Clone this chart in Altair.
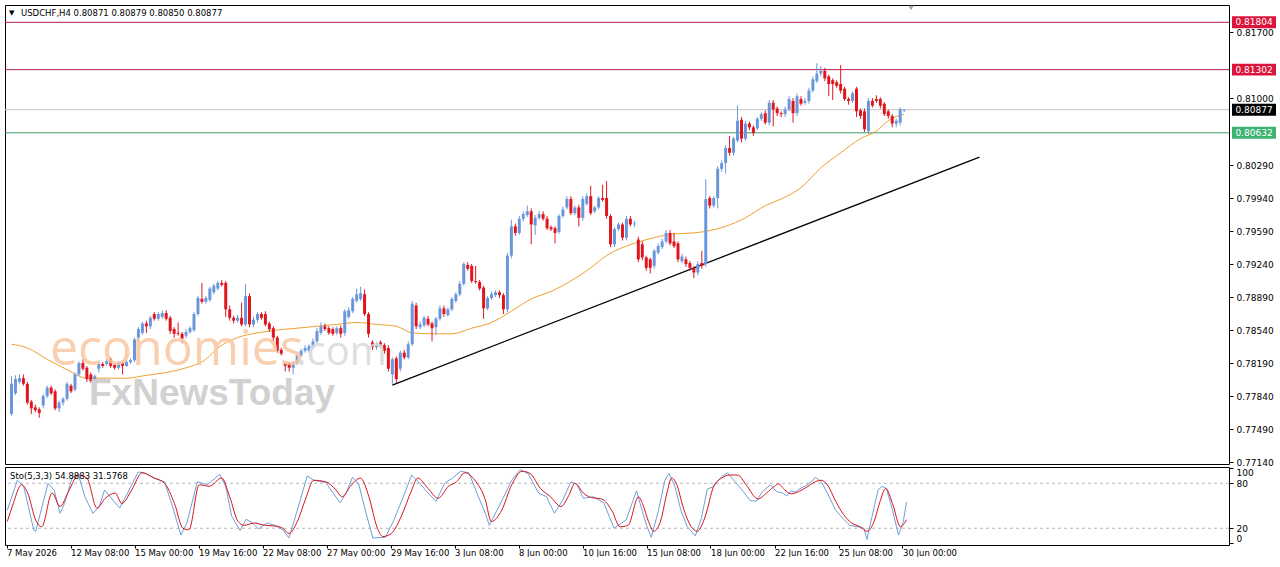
import altair as alt
import pandas as pd
import numpy as np

# ---------------- data (prices in units of 0.0001) ----------------
opens = [7765, 7787, 7799, 7803, 7797, 7778, 7772, 7770, 7774, 7784,
         7793, 7789, 7771, 7777, 7781, 7795, 7791, 7807, 7819, 7814,
         7807, 7802, 7813, 7818, 7818, 7823, 7817, 7814, 7819, 7816,
         7820, 7822, 7846, 7851, 7861, 7858, 7871, 7866, 7868, 7872,
         7867, 7855, 7851, 7850, 7848, 7852, 7854, 7871, 7887, 7884,
         7886, 7894, 7898, 7904, 7904, 7876, 7867, 7864, 7867, 7860,
         7890, 7860, 7865, 7871, 7871, 7861, 7856, 7846, 7833, 7819,
         7819, 7814, 7819, 7827, 7832, 7832, 7836, 7842, 7851, 7858,
         7856, 7855, 7851, 7856, 7851, 7868, 7874, 7885, 7887, 7892,
         7871, 7841, 7836, 7841, 7838, 7835, 7807, 7824, 7813, 7830,
         7825, 7839, 7880, 7857, 7859, 7866, 7861, 7857, 7866, 7877,
         7870, 7876, 7885, 7892, 7903, 7923, 7922, 7906, 7905, 7899,
         7877, 7888, 7891, 7894, 7891, 7876, 7933, 7964, 7957, 7972,
         7976, 7980, 7965, 7973, 7977, 7972, 7963, 7962, 7958, 7975,
         7984, 7993, 7978, 7984, 7973, 7988, 7996, 7980, 7984, 7994,
         7994, 7975, 7945, 7961, 7966, 7952, 7972, 7966, 7950, 7945,
         7931, 7929, 7922, 7936, 7942, 7948, 7957, 7948, 7946, 7927,
         7929, 7925, 7920, 7915, 7925, 7924, 7994, 7986, 7994, 8025,
         8031, 8047, 8042, 8055, 8077, 8057, 8073, 8069, 8068, 8078,
         8084, 8074, 8095, 8089, 8084, 8083, 8088, 8097, 8084, 8099,
         8095, 8097, 8108, 8118, 8126, 8129, 8123, 8119, 8117, 8115,
         8110, 8099, 8097, 8110, 8087, 8086, 8065, 8097, 8099, 8099,
         8094, 8086, 8081, 8073, 8074, 8087.1]
highs = [7805, 7806, 7807, 7807, 7799, 7780, 7775, 7772, 7786, 7795,
         7795, 7791, 7779, 7783, 7799, 7797, 7809, 7821, 7823, 7816,
         7809, 7807, 7821, 7820, 7823, 7825, 7819, 7821, 7821, 7822,
         7824, 7846, 7857, 7863, 7864, 7869, 7873, 7873, 7875, 7875,
         7869, 7857, 7862, 7852, 7855, 7858, 7873, 7890, 7904, 7890,
         7900, 7903, 7906, 7907, 7906, 7880, 7869, 7870, 7883, 7903,
         7893, 7868, 7873, 7873, 7874, 7863, 7858, 7848, 7835, 7820,
         7820, 7821, 7829, 7834, 7838, 7839, 7845, 7856, 7862, 7861,
         7858, 7857, 7858, 7859, 7876, 7878, 7889, 7898, 7900, 7897,
         7873, 7843, 7841, 7843, 7840, 7838, 7825, 7826, 7832, 7833,
         7842, 7885, 7883, 7863, 7869, 7869, 7863, 7868, 7880, 7880,
         7878, 7889, 7894, 7906, 7926, 7926, 7924, 7922, 7907, 7901,
         7890, 7895, 7896, 7896, 7893, 7936, 7971, 7967, 7975, 7980,
         7986, 7983, 7976, 7980, 7980, 7975, 7965, 7964, 7977, 7985,
         7996, 7996, 7986, 7987, 7996, 7999, 8007, 7986, 7996, 8008,
         8012, 7977, 7963, 7968, 7968, 7975, 7975, 7970, 7953, 7948,
         7933, 7931, 7940, 7946, 7951, 7960, 7960, 7957, 7948, 7935,
         7932, 7927, 7922, 7927, 7938, 8014, 7996, 7996, 8028, 8034,
         8050, 8060, 8059, 8092, 8080, 8076, 8075, 8071, 8080, 8085,
         8087, 8098, 8098, 8091, 8086, 8091, 8102, 8100, 8105, 8102,
         8100, 8111, 8123, 8137, 8134, 8132, 8125, 8121, 8119, 8135,
         8112, 8101, 8107, 8112, 8089, 8089, 8100, 8100, 8103, 8101,
         8096, 8088, 8083, 8078, 8090, 8087.9]
lows = [7763, 7785, 7797, 7795, 7775, 7765, 7767, 7761, 7771, 7782,
        7785, 7769, 7767, 7774, 7779, 7787, 7789, 7805, 7811, 7799,
        7798, 7800, 7809, 7814, 7816, 7814, 7812, 7812, 7807, 7815,
        7818, 7820, 7842, 7849, 7851, 7855, 7864, 7864, 7866, 7864,
        7850, 7846, 7848, 7840, 7845, 7850, 7852, 7869, 7882, 7882,
        7884, 7892, 7896, 7900, 7868, 7864, 7861, 7862, 7858, 7858,
        7857, 7857, 7862, 7865, 7858, 7852, 7842, 7830, 7827, 7810,
        7810, 7807, 7817, 7825, 7830, 7830, 7834, 7840, 7849, 7853,
        7849, 7848, 7849, 7846, 7848, 7866, 7872, 7883, 7885, 7869,
        7846, 7833, 7833, 7835, 7829, 7810, 7797, 7798, 7810, 7823,
        7823, 7837, 7855, 7855, 7857, 7858, 7842, 7849, 7864, 7868,
        7868, 7874, 7883, 7890, 7901, 7917, 7904, 7903, 7896, 7866,
        7875, 7886, 7889, 7888, 7871, 7873, 7930, 7954, 7955, 7969,
        7974, 7945, 7955, 7971, 7970, 7960, 7959, 7946, 7956, 7973,
        7982, 7976, 7976, 7964, 7970, 7986, 7976, 7978, 7982, 7990,
        7972, 7942, 7942, 7959, 7949, 7949, 7964, 7963, 7926, 7928,
        7917, 7914, 7919, 7934, 7940, 7946, 7944, 7941, 7926, 7925,
        7921, 7917, 7909, 7912, 7919, 7921, 7983, 7984, 7983, 8022,
        8020, 8039, 8039, 8053, 8053, 8055, 8066, 8060, 8066, 8076,
        8072, 8071, 8070, 8081, 8080, 8080, 8086, 8074, 8081, 8092,
        8093, 8094, 8106, 8116, 8123, 8118, 8102, 8098, 8111, 8105,
        8097, 8093, 8095, 8080, 8078, 8064, 8062, 8090, 8095, 8089,
        8081, 8078, 8069, 8069, 8071, 8085.0]
closes = [7797, 7802, 7803, 7797, 7777, 7771, 7769, 7766, 7784, 7793,
          7787, 7771, 7777, 7781, 7797, 7789, 7807, 7819, 7813, 7802,
          7800, 7805, 7818, 7816, 7821, 7816, 7814, 7819, 7816, 7820,
          7822, 7844, 7855, 7861, 7858, 7867, 7866, 7871, 7872, 7866,
          7853, 7850, 7850, 7845, 7852, 7856, 7871, 7888, 7884, 7888,
          7898, 7901, 7904, 7902, 7876, 7867, 7864, 7867, 7860, 7890,
          7860, 7865, 7871, 7867, 7860, 7855, 7846, 7832, 7829, 7816,
          7814, 7819, 7827, 7832, 7835, 7837, 7842, 7853, 7858, 7855,
          7851, 7850, 7856, 7850, 7874, 7875, 7887, 7892, 7893, 7871,
          7850, 7836, 7838, 7837, 7832, 7813, 7823, 7802, 7830, 7825,
          7839, 7882, 7858, 7860, 7867, 7860, 7856, 7866, 7877, 7871,
          7876, 7887, 7892, 7903, 7924, 7919, 7906, 7905, 7898, 7877,
          7888, 7892, 7894, 7891, 7876, 7933, 7964, 7957, 7972, 7977,
          7980, 7966, 7973, 7977, 7972, 7962, 7961, 7957, 7975, 7982,
          7993, 7978, 7984, 7973, 7993, 7996, 7978, 7984, 7994, 7992,
          7975, 7945, 7961, 7966, 7952, 7972, 7966, 7967, 7929, 7931,
          7920, 7920, 7938, 7943, 7948, 7957, 7946, 7943, 7929, 7932,
          7924, 7920, 7915, 7924, 7922, 7993, 7986, 7994, 8025, 8031,
          8047, 8042, 8057, 8076, 8057, 8073, 8069, 8063, 8078, 8083,
          8074, 8095, 8088, 8084, 8083, 8088, 8099, 8084, 8102, 8094,
          8097, 8108, 8120, 8126, 8129, 8121, 8115, 8115, 8113, 8108,
          8099, 8097, 8105, 8086, 8081, 8067, 8097, 8092, 8097, 8092,
          8083, 8081, 8073, 8076, 8088, 8087.7]

# moving average readings (bar index, price*1e4)
ma_bars = [0, 4, 9, 14, 19, 24, 29, 34, 39, 44, 49, 52, 57, 62, 67, 72, 77, 82, 87, 92,
           97, 101, 106, 111, 116, 121, 126, 131, 136, 141, 146, 150, 157, 162, 167, 172,
           180, 185, 190, 194, 199, 204, 209, 214, 218, 221, 225]
ma_vals = [7839, 7835, 7823, 7812, 7803, 7803, 7803, 7806, 7809, 7814, 7823, 7835, 7846,
           7851, 7854, 7856, 7858, 7860, 7862, 7860, 7858, 7851, 7850, 7850, 7856, 7862,
           7874, 7887, 7895, 7906, 7920, 7933, 7946, 7952, 7956, 7957, 7964, 7973, 7986,
           7993, 8005, 8026, 8042, 8057, 8065, 8076, 8083]

# trend line end points (bar index, price)
trend_bars = [96, 244]
trend_prices = [0.77957, 0.80375]

# stochastic readings (bar index, value)
sto_main = [(0.2, 44), (2.7, 84), (4.3, 76), (6.8, 18), (7.3, 16), (10.4, 80), (11.9, 71),
            (13.4, 40), (14.5, 53), (16.5, 89), (18.0, 91), (19.6, 62), (21.6, 40), (23.2, 49),
            (24.5, 71), (25.9, 62), (28.3, 47), (30.3, 67), (32.9, 95), (34.4, 94), (36.9, 87),
            (39.5, 82), (41.5, 49), (43.6, 11), (45.1, 27), (47.7, 82), (50.2, 78), (53.3, 92),
            (54.8, 76), (56.3, 36), (58.4, 17), (59.9, 32), (61.5, 27), (63.0, 19), (65.0, 27),
            (67.1, 24), (69.1, 18), (70.6, 7), (72.7, 44), (75.2, 90), (76.8, 84), (79.8, 81),
            (83.4, 54), (84.9, 67), (86.5, 88), (88.0, 80), (90.1, 36), (91.6, 7), (94.7, 8),
            (96.7, 29), (99.2, 62), (101.3, 91), (103.3, 80), (105.4, 67), (107.4, 56),
            (109.5, 80), (111.5, 87), (113.5, 96), (115.6, 94), (117.6, 67), (119.7, 40),
            (120.7, 24), (123.3, 51), (126.3, 84), (128.4, 98), (130.4, 93), (133.0, 67),
            (135.0, 62), (137.0, 40), (139.1, 58), (141.1, 82), (142.7, 78), (144.2, 60),
            (146.7, 62), (149.3, 54), (151.9, 20), (154.9, 31), (157.5, 70), (159.0, 42),
            (160.0, 24), (161.2, 8), (163.0, 44), (164.6, 84), (165.6, 93), (167.1, 76),
            (168.6, 44), (170.2, 22), (172.2, 10), (173.7, 33), (175.2, 72), (176.8, 76),
            (178.8, 89), (180.3, 94), (181.8, 84), (183.9, 71), (185.9, 57), (187.4, 56),
            (189.0, 69), (191.0, 78), (192.5, 69), (194.0, 67), (195.1, 63), (196.1, 70),
            (197.1, 68), (198.1, 72), (199.6, 76), (201.2, 82), (202.2, 88), (203.7, 82),
            (205.2, 67), (207.3, 44), (209.3, 32), (210.8, 24), (212.8, 22), (214.4, 20),
            (215.1, 5), (216.4, 36), (217.9, 71), (218.9, 76), (220.0, 73), (221.5, 44),
            (223.0, 11), (224.2, 29), (225.0, 54.9)]
sto_signal = [(0.2, 29), (1.7, 53), (3.7, 78), (5.3, 67), (7.3, 31), (8.8, 22), (11.4, 67),
              (13.4, 49), (15.5, 69), (18.0, 91), (20.1, 87), (22.6, 47), (24.7, 60), (27.2, 67),
              (28.8, 53), (31.3, 71), (33.9, 94), (36.9, 87), (39.5, 80), (42.0, 53), (44.1, 20),
              (45.6, 18), (48.2, 78), (50.7, 76), (53.8, 87), (55.8, 62), (57.9, 29), (59.4, 24),
              (62.0, 27), (64.5, 24), (67.1, 23), (69.1, 20), (70.6, 13), (72.7, 29), (74.7, 58),
              (76.8, 84), (79.8, 82), (82.4, 71), (83.9, 62), (86.0, 76), (88.5, 87), (90.6, 62),
              (92.6, 22), (94.1, 9), (96.2, 13), (98.7, 36), (101.3, 71), (102.8, 87),
              (105.4, 73), (107.9, 60), (110.5, 76), (112.5, 82), (114.6, 94), (117.1, 84),
              (119.7, 58), (121.2, 29), (123.8, 44), (126.3, 78), (128.9, 96), (130.9, 93),
              (133.5, 73), (136.0, 62), (138.6, 49), (140.6, 64), (142.1, 80), (144.2, 67),
              (146.2, 61), (148.8, 59), (151.3, 44), (153.4, 22), (155.4, 24), (158.0, 62),
              (159.0, 53), (160.5, 29), (161.8, 16), (163.6, 31), (165.1, 67), (166.3, 87),
              (167.6, 78), (169.1, 49), (171.2, 22), (172.7, 16), (174.7, 36), (176.8, 76),
              (178.8, 87), (180.8, 91), (182.8, 91), (184.9, 78), (187.9, 59), (190.0, 67),
              (192.0, 76), (193.0, 79), (194.6, 71), (196.1, 66), (198.1, 69), (200.1, 75),
              (202.2, 82), (203.7, 84), (205.2, 78), (207.3, 56), (209.3, 38), (211.3, 27),
              (213.4, 22), (215.1, 16), (216.9, 29), (218.4, 56), (219.8, 73), (221.5, 53),
              (223.5, 22), (225.0, 31.6)]

tick_labels = ["7 May 2026", "12 May 08:00", "15 May 00:00", "19 May 16:00", "22 May 08:00",
               "27 May 00:00", "29 May 16:00", "3 Jun 08:00", "8 Jun 00:00", "10 Jun 16:00",
               "15 Jun 08:00", "18 Jun 00:00", "22 Jun 16:00", "25 Jun 08:00", "30 Jun 00:00"]
tick_bars = [16 * k for k in range(len(tick_labels))]
price_ticks = [0.77140, 0.77490, 0.77840, 0.78190, 0.78540, 0.78890, 0.79240, 0.79590,
               0.79940, 0.80290, 0.81000, 0.81700]
level_prices = [0.81804, 0.81302, 0.80877, 0.80632]
level_text = ["0.81804", "0.81302", "0.80877", "0.80632"]
level_line_colors = ["#b5204a", "#b5204a", "#c4c4c4", "#3d9a62"]
level_box_colors = ["#dc143c", "#dc143c", "#000000", "#3cb371"]

# ---------------- build frames ----------------
BULL, BEAR = "#6a97dc", "#e0161f"
n = len(opens)
df = pd.DataFrame({
    "bar": np.arange(n),
    "open": np.array(opens) / 1e4, "high": np.array(highs) / 1e4,
    "low": np.array(lows) / 1e4, "close": np.array(closes) / 1e4,
})
df["dir"] = np.where(df["close"] >= df["open"], "bull", "bear")
lo = np.minimum(df["open"], df["close"])
hi = np.maximum(df["open"], df["close"])
mid = (lo + hi) / 2
thin = (hi - lo) < 0.00009
df["blo"] = np.where(thin, mid - 0.000045, lo)
df["bhi"] = np.where(thin, mid + 0.000045, hi)

ma_df = pd.DataFrame({"bar": ma_bars, "ma": np.array(ma_vals) / 1e4})
tr_df = pd.DataFrame({"bar": trend_bars, "price": trend_prices})
lv_df = pd.DataFrame({"price": level_prices, "txt": level_text,
                      "lc": level_line_colors, "bc": level_box_colors})
lv_df["lo"] = lv_df["price"] - 0.00063
lv_df["hi"] = lv_df["price"] + 0.00063

W = 1224
XDOM = [-0.375, 305.625]
xs = alt.Scale(domain=XDOM, nice=False, zero=False)
ys = alt.Scale(domain=[0.771194, 0.819876], nice=False, zero=False)
yaxis = alt.Axis(orient="right", values=price_ticks, format=".5f", title=None, grid=False,
                 domain=False, tickSize=4, tickColor="#000", labelPadding=3,
                 labelFont="DejaVu Sans", labelFontSize=9, labelColor="#000")
dir_color = alt.Color("dir:N", scale=alt.Scale(domain=["bull", "bear"], range=[BULL, BEAR]),
                      legend=None)

base = alt.Chart(df)
wicks = base.mark_rule(strokeWidth=1).encode(
    x=alt.X("bar:Q", scale=xs, axis=None),
    y=alt.Y("low:Q", scale=ys, axis=yaxis), y2="high:Q", color=dir_color)
bodies = base.mark_bar(size=3).encode(
    x=alt.X("bar:Q", scale=xs, axis=None),
    y=alt.Y("blo:Q", scale=ys, axis=yaxis), y2="bhi:Q", color=dir_color)

ma_line = alt.Chart(ma_df).mark_line(color="#f0a030", strokeWidth=1, interpolate="monotone").encode(
    x=alt.X("bar:Q", scale=xs, axis=None), y=alt.Y("ma:Q", scale=ys, axis=yaxis))
trend = alt.Chart(tr_df).mark_line(color="#000000", strokeWidth=1.3).encode(
    x=alt.X("bar:Q", scale=xs, axis=None), y=alt.Y("price:Q", scale=ys, axis=yaxis))
hlines = alt.Chart(lv_df).mark_rule(strokeWidth=1).encode(
    y=alt.Y("price:Q", scale=ys, axis=yaxis), color=alt.Color("lc:N", scale=None))
boxes = alt.Chart(lv_df).mark_rect().encode(
    x=alt.value(W + 3), x2=alt.value(W + 47),
    y=alt.Y("lo:Q", scale=ys, axis=yaxis), y2="hi:Q", color=alt.Color("bc:N", scale=None))
box_txt = alt.Chart(lv_df).mark_text(font="DejaVu Sans", fontSize=9, color="white",
                                     align="center", baseline="middle").encode(
    x=alt.value(W + 25), y=alt.Y("price:Q", scale=ys, axis=yaxis), text="txt:N")

one = pd.DataFrame({"k": [0]})
wm1 = alt.Chart(one).mark_text(text="economies", font="Open Sans", fontSize=50,
                               color="#f8c7a2", opacity=0.85, align="left",
                               baseline="alphabetic").encode(x=alt.value(45), y=alt.value(360))
wm2 = alt.Chart(one).mark_text(text=".com", font="Open Sans", fontSize=40,
                               color="#d9d9d9", opacity=0.85, align="left",
                               baseline="alphabetic").encode(x=alt.value(291), y=alt.value(360))
wm3 = alt.Chart(one).mark_text(text="FxNewsToday", font="Liberation Sans", fontSize=37,
                               fontWeight="bold", color="#c9c9c9", opacity=0.85, align="left",
                               baseline="alphabetic").encode(x=alt.value(84), y=alt.value(400))
hdr_tri = alt.Chart(one).mark_text(text="▼", font="DejaVu Sans", fontSize=7, color="#000",
                                   align="left", baseline="middle").encode(
    x=alt.value(4), y=alt.value(8))
hdr = alt.Chart(one).mark_text(text="USDCHF,H4  0.80871 0.80879 0.80850 0.80877",
                               font="DejaVu Sans", fontSize=8.5, color="#000",
                               align="left", baseline="middle").encode(
    x=alt.value(16), y=alt.value(8))
shift_mark = alt.Chart(one).mark_point(shape="triangle-down", filled=True, size=30,
                                       color="#a8a8a8", opacity=1).encode(
    x=alt.value(906), y=alt.value(3))

main = alt.layer(hlines, trend, ma_line, wicks, bodies, wm1, wm2, wm3, boxes, box_txt,
                 hdr_tri, hdr, shift_mark).properties(width=W, height=459)

# ---------------- stochastic panel ----------------
sm = pd.DataFrame(sto_main, columns=["bar", "v"])
ss = pd.DataFrame(sto_signal, columns=["bar", "v"])
sy = alt.Scale(domain=[-2.3, 101.7], nice=False, zero=False)
label_arr = "[" + ",".join("'" + s + "'" for s in tick_labels) + "]"
sxaxis = alt.Axis(values=tick_bars, labelExpr=label_arr + "[round(datum.value/16)]",
                  orient="bottom", labelAlign="left", labelPadding=0, tickSize=3,
                  tickColor="#000", domain=False, grid=False, title=None,
                  labelFont="DejaVu Sans", labelFontSize=8.5, labelColor="#000",
                  labelOverlap=False, labelFlush=False)
syaxis = alt.Axis(orient="right", values=[0, 20, 80, 100], title=None, grid=False,
                  domain=False, tickSize=4, tickColor="#000", labelPadding=3,
                  labelFont="DejaVu Sans", labelFontSize=9, labelColor="#000",
                  labelOffset={"condition": [{"test": "datum.value == 100", "value": 4},
                                             {"test": "datum.value == 0", "value": -5}],
                               "value": 0})
lvl_df = pd.DataFrame({"v": [20, 80]})
dash = alt.Chart(lvl_df).mark_rule(color="#b8b8b8", strokeDash=[3, 3], strokeWidth=1).encode(
    y=alt.Y("v:Q", scale=sy, axis=syaxis))
k_line = alt.Chart(sm).mark_line(color="#6f9fd8", strokeWidth=1).encode(
    x=alt.X("bar:Q", scale=xs, axis=sxaxis), y=alt.Y("v:Q", scale=sy, axis=syaxis))
d_line = alt.Chart(ss).mark_line(color="#d8141e", strokeWidth=1, interpolate="monotone").encode(
    x=alt.X("bar:Q", scale=xs, axis=sxaxis), y=alt.Y("v:Q", scale=sy, axis=syaxis))
sto_hdr = alt.Chart(one).mark_text(text="Sto(5,3,3) 54.8883 31.5768", font="DejaVu Sans",
                                   fontSize=8.5, color="#000", align="left",
                                   baseline="middle").encode(x=alt.value(5), y=alt.value(9))
stoch = alt.layer(dash, k_line, d_line, sto_hdr).properties(width=W, height=78)

chart = alt.vconcat(main, stoch, spacing=3, bounds="flush").properties(
    padding={"left": 4, "top": 4, "right": 0, "bottom": 0}, background="white"
).configure_view(stroke="#000000", strokeWidth=1).configure_axis(labelFont="DejaVu Sans")

chart.save("out.html", embed_options={"renderer": "svg", "actions": False})
